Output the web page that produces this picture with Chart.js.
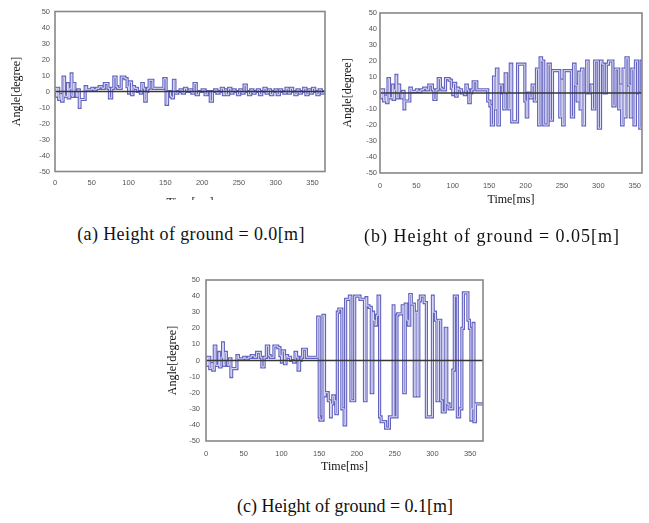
<!DOCTYPE html>
<html>
<head>
<meta charset="utf-8">
<script src="https://cdn.jsdelivr.net/npm/chart.js@4.4.1/dist/chart.umd.min.js"></script>
<style>
  body { margin: 0; background: #fff; }
  #page { position: relative; width: 649px; height: 523px; overflow: hidden; background: #fff; }
  .box { position: absolute; overflow: hidden; }
  .cap { position: absolute; font-family: "Liberation Serif", "Times New Roman", serif; font-size: 18px; color: #111; white-space: nowrap; transform: translateX(-50%); }
</style>
</head>
<body>
<div id="page">
  <div class="box" style="left:0;top:0;width:330px;height:200px"><canvas id="chartA" width="330" height="210"></canvas></div>
  <div class="box" style="left:320px;top:0;width:329px;height:210px"><canvas id="chartB" width="329" height="210"></canvas></div>
  <div class="box" style="left:160px;top:265px;width:330px;height:215px"><canvas id="chartC" width="330" height="215"></canvas></div>
  <div class="cap" style="left:191px;top:224px;letter-spacing:0.4px">(a) Height of ground = 0.0[m]</div>
  <div class="cap" style="left:492px;top:226px;letter-spacing:1px">(b) Height of ground = 0.05[m]</div>
  <div class="cap" style="left:345px;top:496px">(c) Height of ground = 0.1[m]</div>
</div>
<script>
// time [ms] where each step starts, and the angle [degree] held from there
const timeA = [0,2,3,5,7,9,11,13,17,18,20,22,23,25,27,29,31,33,34,41,43,50,52,56,60,64,67,72,74,77,80,83,85,90,95,98,100,101,104,106,108,112,116,118,120,122,124,126,128,133,139,148,151,153,157,159,161,163,167,170,173,176,179,182,186,189,192,195,200,204,207,211,214,217,220,223,226,229,231,233,236,239,242,245,248,251,254,257,260,263,266,269,272,275,278,281,284,287,290,293,296,299,302,305,308,311,314,317,320,323,326,329,332,335,338,341,344,347,350,353,356,359,362,365,367];
const angleA = [0,2,-3,2,-5,-2,-6,9,-3,5,-4,2,11,-3,5,0,-3,1,-10,-5,3,1,2,1,2,3,2,5,2,-4,2,9,3,2,9,8,3,-1,6,-2,3,2,0,-1,5,2,-6,0,2,7,2,2,8,-8,0,-3,-4,7,-1,0,1,-1,2,0,1,-1,5,-2,0,1,-2,0,-6,0,1,-1,0,2,-2,1,-2,2,-1,1,0,-2,1,-1,4,0,-2,1,-1,0,1,-2,0,2,-1,1,-2,0,1,-2,1,0,-1,2,-1,2,0,-2,1,-1,0,2,-2,1,-1,2,0,-2,1,-1,0];

const timeB = [0,2,3,5,7,9,11,13,17,18,20,22,23,25,27,29,31,33,34,41,43,50,52,56,60,64,67,72,74,77,80,83,85,90,95,98,100,101,104,106,108,112,116,118,120,122,124,126,128,133,139,148,151,153,156,158,160,162,164,168,170,172,174,177,179,181,189,199,201,203,206,209,212,215,218,220,222,225,231,234,237,247,249,251,253,263,266,268,271,273,275,277,279,281,284,286,290,292,295,300,303,305,308,311,314,320,323,328,330,332,334,336,338,341,344,346,349,351,354,357,359,361,363];
const angleB = [0,2,-3,2,-5,-2,-6,9,-3,5,-4,2,11,-3,5,0,-3,1,-10,-5,3,1,2,1,2,3,2,5,2,-4,2,9,3,2,9,8,3,-1,6,-2,3,2,0,-1,5,2,-6,0,2,7,2,2,-5,-8,-20,10,-10,15,-20,5,0,-10,12,0,-10,18,-18,18,-5,-15,0,-3,5,-5,15,-20,22,20,-20,18,-17,14,-15,8,-20,14,-15,18,5,-5,13,-10,15,-20,0,20,0,5,-10,20,-22,20,18,0,18,20,-8,15,-10,5,-20,15,-15,22,5,-15,15,-20,20,0,-22,20,-12];

const timeC = [0,2,3,5,7,9,11,13,17,18,20,22,23,25,27,29,31,33,34,41,43,50,52,56,60,64,67,72,74,77,80,83,85,90,95,98,100,101,104,106,108,112,116,118,120,122,124,126,128,133,139,148,150,151,155,157,158,162,165,166,168,170,172,174,176,180,183,185,190,192,197,204,210,212,213,216,219,221,222,224,226,228,230,232,238,243,248,249,250,253,254,260,262,264,266,268,270,272,276,278,280,282,284,289,292,300,301,304,306,308,311,313,317,319,322,327,329,333,336,339,341,347,349,351,352,354,355,357,359,367];
const angleC = [0,2,-3,2,-5,-2,-6,9,-3,5,-4,2,11,-3,5,0,-3,1,-10,-5,3,1,2,1,2,3,2,5,2,-4,2,9,3,2,9,8,3,-1,6,-2,3,2,0,-1,5,2,-6,0,2,7,2,2,27,-35,-37,28,-22,-20,-25,-35,-27,-22,-25,-33,30,32,-30,-40,38,40,-25,40,38,-25,39,34,33,-20,30,25,22,28,40,-35,-38,-42,-35,34,-35,-35,28,29,34,-20,35,25,22,41,35,-22,30,-22,37,40,36,-35,40,30,25,-25,25,-25,-32,20,-27,-30,-6,40,-35,-30,20,42,25,20,-37,-30,23,-38,-27,-27];

const yTicks = [-50,-40,-30,-20,-10,0,10,20,30,40,50];

const frame = {
  id: 'frame',
  afterDatasetsDraw(chart) {
    const a = chart.chartArea, ctx = chart.ctx;
    ctx.save();
    ctx.strokeStyle = 'rgb(135,135,135)';
    ctx.lineWidth = 1.6;
    ctx.strokeRect(a.left, a.top, a.right - a.left, a.bottom - a.top);
    ctx.restore();
  }
};

function makeChart(id, times, angles, o) {
  const pts = times.map((t, i) => ({x: t, y: angles[i]}));
  return new Chart(document.getElementById(id).getContext('2d'), {
    type: 'line',
    data: {
      datasets: [
        {data: [{x: 0, y: 0}, {x: o.xMax, y: 0}], borderColor: 'rgb(55,55,55)', borderWidth: 1.7, pointRadius: 0},
        {data: pts, stepped: 'after', borderColor: 'rgb(222,222,245)', borderWidth: 1, pointRadius: 0},
        {data: pts, stepped: 'after', borderColor: 'rgb(100,100,192)', borderWidth: 3.2, pointRadius: 0}
      ]
    },
    options: {
      responsive: false,
      animation: false,
      devicePixelRatio: 1,
      layout: {padding: {top: o.top, right: o.right, left: 0, bottom: 0}},
      plugins: {legend: {display: false}, tooltip: {enabled: false}},
      scales: {
        x: {
          type: 'linear', min: 0, max: o.xMax,
          afterFit: s => { s.height = o.xH; },
          grid: {display: false, drawTicks: false},
          border: {display: false},
          ticks: {stepSize: 50, includeBounds: false, padding: o.xPad, color: 'rgb(85,85,85)', font: {family: 'Liberation Sans', size: 7.5}},
          title: {display: true, text: 'Time[ms]', color: '#111', padding: {top: 0, bottom: o.xTitlePad}, font: {family: 'Liberation Serif', size: 12}}
        },
        y: {
          min: -50, max: 50,
          afterFit: s => { s.width = o.yW; },
          afterBuildTicks: s => { s.ticks = yTicks.map(v => ({value: v})); },
          grid: {display: false, drawTicks: false},
          border: {display: false},
          ticks: {padding: o.yPad, color: 'rgb(85,85,85)', font: {family: 'Liberation Sans', size: 7.5}},
          title: {display: true, text: 'Angle[degree]', color: '#111', padding: {top: o.yTitlePad, bottom: 0}, font: {family: 'Liberation Serif', size: 12}}
        }
      }
    },
    plugins: [frame]
  });
}

window.onload = function () {
  makeChart('chartA', timeA, angleA, {xMax: 367, top: 11.5, right: 5, yW: 55, xH: 38.5, xPad: 7, xTitlePad: 0, yPad: 5, yTitlePad: 10});
  makeChart('chartB', timeB, angleB, {xMax: 360, top: 13, right: 1, yW: 60, xH: 37, xPad: 8, xTitlePad: 3, yPad: 3, yTitlePad: 21});
  makeChart('chartC', timeC, angleC, {xMax: 367, top: 15, right: 7, yW: 46, xH: 39, xPad: 8, xTitlePad: 6, yPad: 6, yTitlePad: 6});
};
</script>
</body>
</html>
